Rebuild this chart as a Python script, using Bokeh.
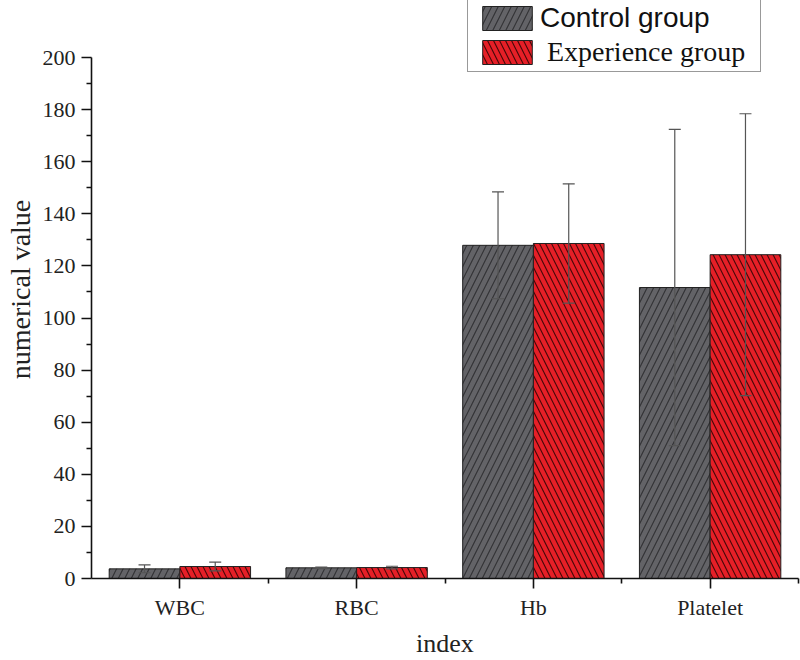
import numpy as np
from bokeh.plotting import figure
from bokeh.models import (ColumnDataSource, Whisker, FixedTicker, Legend, LegendItem)
from bokeh.embed import file_html
from bokeh.resources import INLINE

categories = ["WBC", "RBC", "Hb", "Platelet"]
control = [3.7, 4.1, 127.9, 111.7]
control_sd = [1.5, 0.3, 20.5, 60.7]
experience = [4.6, 4.2, 128.6, 124.3]
experience_sd = [1.7, 0.5, 22.9, 54.1]
y_ticks = [0, 20, 40, 60, 80, 100, 120, 140, 160, 180, 200]

idx = np.arange(1, len(categories) + 1, dtype=float)
offset = 0.2
bar_w = 0.4

src_c = ColumnDataSource(dict(
    x=idx - offset, top=control,
    upper=[v + s for v, s in zip(control, control_sd)],
    lower=[v - s for v, s in zip(control, control_sd)]))
src_e = ColumnDataSource(dict(
    x=idx + offset, top=experience,
    upper=[v + s for v, s in zip(experience, experience_sd)],
    lower=[v - s for v, s in zip(experience, experience_sd)]))

# frame reaches the top of the figure; the y axis itself stops at 200
y_top = 200 * 578 / 521
p = figure(width=800, height=660, output_backend="svg", toolbar_location=None,
           x_range=(0.5, len(categories) + 0.5), y_range=(0, y_top),
           min_border_left=91, min_border_right=2, min_border_top=0, min_border_bottom=82)
p.outline_line_color = None
p.xgrid.visible = False
p.ygrid.visible = False

r_c = p.vbar(x="x", top="top", width=bar_w, source=src_c,
             fill_color="#636367", line_color="#222222", line_width=1,
             hatch_pattern="/", hatch_color="#333336", hatch_scale=13, hatch_weight=1.2)
r_e = p.vbar(x="x", top="top", width=bar_w, source=src_e,
             fill_color="#e61f27", line_color="#222222", line_width=1,
             hatch_pattern="\\", hatch_color="#4a0808", hatch_scale=12, hatch_weight=1.2)
# invisible renderer used only to size the legend frame
r_box = p.vbar(x=[], top=[], width=bar_w, fill_alpha=0, line_alpha=0)

for src in (src_c, src_e):
    w = Whisker(base="x", upper="upper", lower="lower", source=src,
                line_color="#555555", line_width=1.2, level="annotation")
    w.upper_head.size = 12
    w.lower_head.size = 12
    w.upper_head.line_color = "#555555"
    w.lower_head.line_color = "#555555"
    w.upper_head.line_width = 1.2
    w.lower_head.line_width = 1.2
    p.add_layout(w)

# axes
p.xaxis.ticker = FixedTicker(ticks=list(idx), minor_ticks=list(idx + 0.5))
p.xaxis.major_label_overrides = {float(i): c for i, c in zip(idx, categories)}
p.yaxis.ticker = FixedTicker(ticks=y_ticks,
                             minor_ticks=[t + 10 for t in y_ticks[:-1]])
p.yaxis.bounds = (y_ticks[0], y_ticks[-1])
for ax in (p.xaxis, p.yaxis):
    ax.axis_line_width = 1.6
    ax.axis_line_color = "#111111"
    ax.major_tick_line_width = 1.6
    ax.minor_tick_line_width = 1.6
    ax.major_tick_line_color = "#111111"
    ax.minor_tick_line_color = "#111111"
    ax.major_tick_in = 0
    ax.major_tick_out = 10
    ax.minor_tick_in = 0
    ax.minor_tick_out = 5
    ax.major_label_text_font = "Liberation Serif"
    ax.major_label_text_font_size = "22px"
    ax.major_label_text_color = "#222222"
    ax.axis_label_text_font = "Liberation Serif"
    ax.axis_label_text_font_style = "normal"
    ax.axis_label_text_color = "#222222"
p.xaxis.major_label_standoff = 6
p.yaxis.major_label_standoff = 6
p.xaxis.axis_label = "index"
p.xaxis.axis_label_text_font_size = "26px"
p.xaxis.axis_label_standoff = 6
p.yaxis.axis_label = "numerical value"
p.yaxis.axis_label_text_font_size = "28px"
p.yaxis.axis_label_standoff = 4

# legend: an outer frame plus two entries with their own fonts
leg_box = Legend(items=[LegendItem(label=" ", renderers=[r_box])],
                 location=(376, 506), padding=0, margin=0, spacing=0,
                 glyph_width=1, glyph_height=71, label_height=71, label_width=291,
                 label_standoff=0, label_text_alpha=0,
                 border_line_color="#333333", border_line_width=1,
                 background_fill_color="white", background_fill_alpha=1)
common = dict(padding=0, margin=0, spacing=0, glyph_width=62, glyph_height=30,
              label_height=30, border_line_alpha=0, background_fill_alpha=0)
leg_c = Legend(items=[LegendItem(label="Control group", renderers=[r_c])],
               location=(385, 544), label_text_font="Liberation Sans",
               label_text_font_size="28px", label_text_color="#111111",
               label_standoff=2, **common)
leg_e = Legend(items=[LegendItem(label="Experience group", renderers=[r_e])],
               location=(385, 510), label_text_font="Liberation Serif",
               label_text_font_size="28px", label_text_color="#111111",
               label_standoff=9, **common)
for lg in (leg_box, leg_c, leg_e):
    p.add_layout(lg, "center")

open("out.html", "w").write(file_html(p, INLINE))
